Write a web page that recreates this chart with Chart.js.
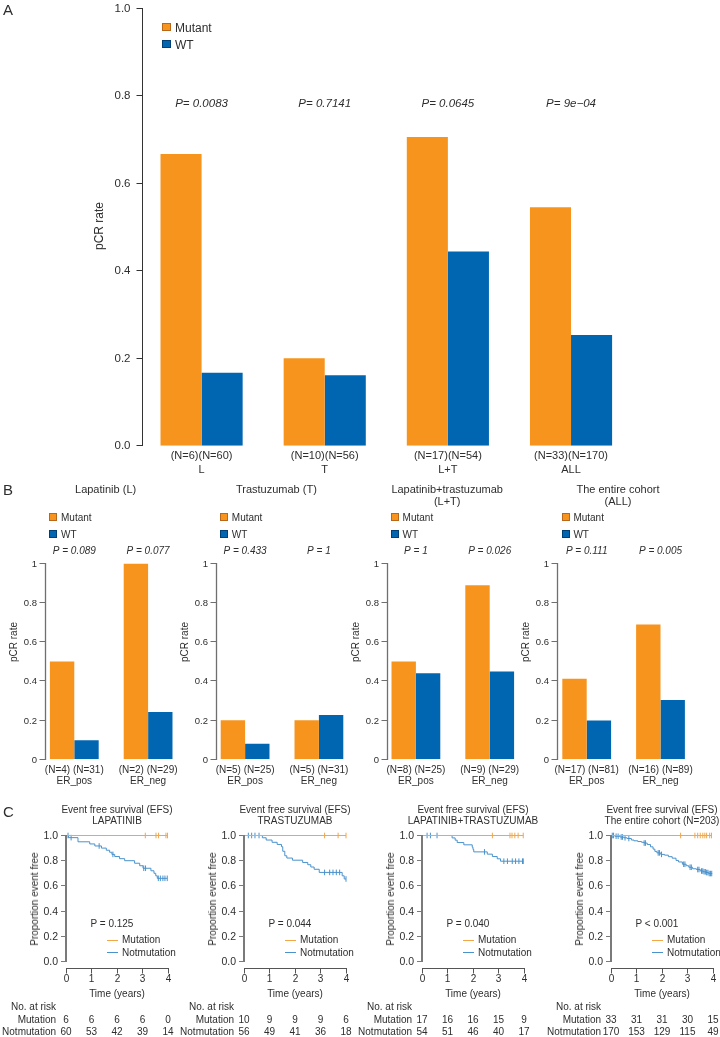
<!DOCTYPE html>
<html><head><meta charset="utf-8">
<script src="https://cdn.jsdelivr.net/npm/chart.js@4.4.1/dist/chart.umd.min.js"></script>
<style>
html,body{margin:0;padding:0;background:#fff;}
#page{position:relative;width:720px;height:1037px;overflow:hidden;font-family:"Liberation Sans",Arial,Helvetica,sans-serif;color:#2e2e2e;background:#fff;}
canvas{position:absolute;}
.t{position:absolute;white-space:nowrap;line-height:1;}
.sq{position:absolute;box-sizing:border-box;}
</style></head><body><div id="page"></div>
<script>
// ---------------- DATA ----------------
// Panel A
const groupsA = ['L', 'T', 'L+T', 'ALL'];
const nLabelsA = ['(N=6)(N=60)', '(N=10)(N=56)', '(N=17)(N=54)', '(N=33)(N=170)'];
const pValuesA = ['P= 0.0083', 'P= 0.7141', 'P= 0.0645', 'P= 9e\u221204'];
const mutantA = [0.667, 0.200, 0.706, 0.545];
const wtA = [0.167, 0.161, 0.444, 0.253];
const yTicksA = [0, 0.2, 0.4, 0.6, 0.8, 1.0];
const yTickLabelsA = ['0.0', '0.2', '0.4', '0.6', '0.8', '1.0'];
const seriesNames = ['Mutant', 'WT'];

// Panel B
const titlesB = [['Lapatinib (L)'], ['Trastuzumab (T)'], ['Lapatinib+trastuzumab', '(L+T)'], ['The entire cohort', '(ALL)']];
const groupsB = ['ER_pos', 'ER_neg'];
const nLabelsB = [['(N=4) (N=31)', '(N=2) (N=29)'], ['(N=5) (N=25)', '(N=5) (N=31)'], ['(N=8) (N=25)', '(N=9) (N=29)'], ['(N=17) (N=81)', '(N=16) (N=89)']];
const pValuesB = [['P = 0.089', 'P = 0.077'], ['P = 0.433', 'P = 1'], ['P = 1', 'P = 0.026'], ['P = 0.111', 'P = 0.005']];
const mutantB = [[0.500, 1.000], [0.200, 0.200], [0.500, 0.889], [0.412, 0.688]];
const wtB = [[0.097, 0.241], [0.080, 0.226], [0.440, 0.448], [0.198, 0.303]];
const yTicksB = [0, 0.2, 0.4, 0.6, 0.8, 1];
const yTickLabelsB = ['0', '0.2', '0.4', '0.6', '0.8', '1'];

// Panel C (Kaplan-Meier)
const titlesC = [['Event free survival (EFS)', 'LAPATINIB'], ['Event free survival (EFS)', 'TRASTUZUMAB'], ['Event free survival (EFS)', 'LAPATINIB+TRASTUZUMAB'], ['Event free survival (EFS)', 'The entire cohort (N=203)']];
const pTextC = ['P = 0.125', 'P = 0.044', 'P = 0.040', 'P < 0.001'];
const kmSeries = ['Mutation', 'Notmutation'];
const xTicksC = [0, 1, 2, 3, 4];
const xTickLabelsC = ['0', '1', '2', '3', '4'];
const yTicksC = [0, 0.2, 0.4, 0.6, 0.8, 1.0];
const yTickLabelsC = ['0.0', '0.2', '0.4', '0.6', '0.8', '1.0'];

const timesNot1 = [0, 0.1, 0.47, 0.93, 1.13, 1.39, 1.58, 1.71, 1.8, 1.91, 2.1, 2.3, 2.69, 2.89, 3.02, 3.33, 3.45, 3.52, 3.58];
const survNot1 = [1, 0.983, 0.95, 0.933, 0.917, 0.9, 0.883, 0.867, 0.85, 0.833, 0.816, 0.8, 0.78, 0.76, 0.74, 0.72, 0.7, 0.68, 0.66];
const censNot1 = [0.08, 0.2, 1.3, 1.84, 3.05, 3.12, 3.62, 3.7, 3.8, 3.88, 3.97];
const censMut1 = [3.11, 3.53, 3.63, 3.92, 3.98];

const timesNot2 = [0, 0.72, 0.87, 1.1, 1.3, 1.47, 1.52, 1.6, 1.68, 1.9, 2.3, 2.5, 2.62, 2.75, 2.95, 3.85, 3.93];
const survNot2 = [1, 0.982, 0.964, 0.946, 0.929, 0.911, 0.875, 0.839, 0.821, 0.804, 0.786, 0.768, 0.75, 0.732, 0.707, 0.68, 0.655];
const censNot2 = [0.17, 0.3, 0.43, 0.59, 3.16, 3.36, 3.49, 3.62, 3.75, 4.0];
const censMut2 = [3.16, 3.69, 4.0];

const timesNot3 = [0, 1.18, 1.3, 1.38, 1.64, 1.97, 2.0, 2.03, 2.56, 2.76, 2.95, 3.08];
const survNot3 = [1, 0.981, 0.963, 0.944, 0.926, 0.907, 0.889, 0.87, 0.852, 0.833, 0.815, 0.796];
const censNot3 = [0.2, 0.33, 0.59, 2.45, 3.21, 3.35, 3.54, 3.67, 3.8, 3.94, 3.97];
const censMut3 = [2.76, 3.45, 3.53, 3.64, 3.77, 3.97];

const timesNot4 = [0, 0.15, 0.35, 0.5, 0.63, 0.8, 0.9, 1.05, 1.2, 1.3, 1.42, 1.55, 1.65, 1.72, 1.8, 1.95, 2.1, 2.25, 2.4, 2.55, 2.65, 2.8, 2.95, 3.05, 3.2, 3.35, 3.5, 3.62, 3.72, 3.83];
const survNot4 = [1, 0.994, 0.988, 0.982, 0.976, 0.964, 0.958, 0.952, 0.946, 0.94, 0.928, 0.91, 0.892, 0.874, 0.862, 0.85, 0.844, 0.832, 0.82, 0.802, 0.79, 0.772, 0.76, 0.748, 0.736, 0.73, 0.718, 0.712, 0.706, 0.698];
const censNot4 = [0.05, 0.1, 0.2, 0.28, 0.4, 0.45, 0.55, 0.7, 1.3, 1.35, 1.85, 1.9, 1.98, 2.85, 2.9, 3.1, 3.15, 3.4, 3.45, 3.55, 3.6, 3.65, 3.7, 3.75, 3.8, 3.85, 3.9, 3.95];
const censMut4 = [2.73, 3.29, 3.4, 3.5, 3.6, 3.68, 3.75, 3.87, 3.94];

const endNot = [3.97, 4.0, 3.97, 3.97];
const endMut = [3.98, 4.0, 3.97, 3.96];

const riskMut = [[6, 6, 6, 6, 0], [10, 9, 9, 9, 6], [17, 16, 16, 15, 9], [33, 31, 31, 30, 15]];
const riskNot = [[60, 53, 42, 39, 14], [56, 49, 41, 36, 18], [54, 51, 46, 40, 17], [170, 153, 129, 115, 49]];

// ---------------- STYLE ----------------
const FONT = '"Liberation Sans", Arial, Helvetica, sans-serif';
const ORANGE = '#F7941D', BLUE = '#0066B2';
const ORANGE_EDGE = '#B8681A', BLUE_EDGE = '#003F73';
const KM_ORANGE = '#F3A646', KM_BLUE = '#4A92CC';
const TXT = '#2e2e2e';

const page = document.getElementById('page');
function makeCanvas(left, top, w, h) {
  const c = document.createElement('canvas');
  c.width = w; c.height = h;
  c.style.left = left + 'px'; c.style.top = top + 'px';
  c.style.width = w + 'px'; c.style.height = h + 'px';
  page.appendChild(c);
  return c;
}
function txt(s, x, y, o = {}) {
  const d = document.createElement('div');
  d.className = 't'; d.textContent = s;
  d.style.left = x + 'px'; d.style.top = y + 'px';
  d.style.fontSize = (o.size || 10) + 'px';
  if (o.italic) d.style.fontStyle = 'italic';
  if (o.color) d.style.color = o.color;
  const ax = o.align === 'left' ? '0' : (o.align === 'right' ? '-100%' : '-50%');
  d.style.transform = 'translate(' + ax + ',-50%)' + (o.rot ? ' rotate(' + o.rot + 'deg)' : '');
  page.appendChild(d);
  return d;
}
function box(x, y, w, h, fill, border) {
  const d = document.createElement('div');
  d.className = 'sq';
  d.style.left = x + 'px'; d.style.top = y + 'px';
  d.style.width = w + 'px'; d.style.height = h + 'px';
  d.style.background = fill;
  if (border) d.style.border = '1px solid ' + border;
  page.appendChild(d);
}
function survAt(times, surv, t) {
  let s = surv[0];
  for (let i = 0; i < times.length; i++) if (times[i] <= t) s = surv[i];
  return s;
}

// R-style axes/labels drawn through the chart's own scales
const rStyle = {
  id: 'rStyle',
  afterDatasetsDraw(chart, args, o) {
    const ctx = chart.ctx, ca = chart.chartArea, xs = chart.scales.x, ys = chart.scales.y;
    const crisp = (v, w) => (Math.round(w) % 2 === 1) ? Math.floor(v) + 0.5 : Math.round(v);
    ctx.save();
    ctx.textBaseline = 'middle';
    if (o.yAxis) {
      const a = o.yAxis;
      const ax = crisp(ca.left + a.offset, a.lineWidth);
      const pts = a.ticks.map(v => crisp(ys.getPixelForValue(v), 1));
      ctx.strokeStyle = a.color; ctx.lineWidth = a.lineWidth;
      ctx.beginPath();
      ctx.moveTo(ax, pts[0] + 0.5); ctx.lineTo(ax, pts[pts.length - 1] - 0.5);
      ctx.stroke();
      ctx.lineWidth = a.tickWidth || 1;
      ctx.beginPath();
      pts.forEach(p => { ctx.moveTo(ax - a.tickLen, p); ctx.lineTo(ax, p); });
      ctx.stroke();
      ctx.fillStyle = a.textColor; ctx.font = a.font; ctx.textAlign = 'right';
      pts.forEach((p, i) => ctx.fillText(a.labels[i], ax - a.tickLen - a.gap, p + 0.5));
    }
    if (o.xAxis) {
      const a = o.xAxis;
      const ay = crisp(ca.bottom + a.offset, a.lineWidth);
      const pts = a.ticks.map(v => crisp(xs.getPixelForValue(v), 1));
      ctx.strokeStyle = a.color; ctx.lineWidth = a.lineWidth;
      ctx.beginPath();
      ctx.moveTo(pts[0] - 0.5, ay); ctx.lineTo(pts[pts.length - 1] + 0.5, ay);
      pts.forEach(p => { ctx.moveTo(p, ay); ctx.lineTo(p, ay + a.tickLen); });
      ctx.stroke();
      ctx.fillStyle = a.textColor; ctx.font = a.font; ctx.textAlign = 'center';
      pts.forEach((p, i) => ctx.fillText(a.labels[i], p, ay + a.labelDy));
    }
    if (o.catLabels) {
      const c = o.catLabels;
      ctx.fillStyle = c.color; ctx.font = c.font; ctx.textAlign = 'center';
      c.lines.forEach((arr, li) => arr.forEach((s, i) => ctx.fillText(s, xs.getPixelForValue(i), ca.bottom + c.dy[li])));
    }
    if (o.topTexts) {
      const c = o.topTexts;
      ctx.fillStyle = c.color; ctx.font = c.font; ctx.textAlign = 'center';
      c.texts.forEach((s, i) => ctx.fillText(s, xs.getPixelForValue(i), ca.top + c.dy));
    }
    if (o.risk) {
      const r = o.risk;
      const x0 = xs.getPixelForValue(r.times[0]);
      ctx.fillStyle = r.color; ctx.font = r.font;
      ctx.textAlign = 'right';
      ctx.fillText(r.header, x0 - r.labelGap, ca.bottom + r.dy[0]);
      r.rows.forEach((row, ri) => {
        const yy = ca.bottom + r.dy[ri + 1];
        ctx.textAlign = 'right';
        ctx.fillText(row.label, x0 - r.labelGap, yy);
        ctx.textAlign = 'center';
        row.values.forEach((v, i) => ctx.fillText(String(v), xs.getPixelForValue(r.times[i]), yy));
      });
    }
    ctx.restore();
  }
};

const baseOpts = (pad) => ({
  responsive: false, animation: false, devicePixelRatio: 1, events: [],
  layout: { padding: pad },
  plugins: { legend: { display: false }, tooltip: { enabled: false } }
});

// ---------------- PANEL A ----------------
(function () {
  const W = 720, H = 490;
  const area = { left: 140, top: 8.3, right: 632.6, bottom: 445.7 };
  const c = makeCanvas(0, 0, W, H);
  const opts = baseOpts({ left: area.left, top: area.top, right: W - area.right, bottom: H - area.bottom });
  opts.scales = { x: { display: false }, y: { display: false, min: 0, max: 1 } };
  opts.plugins.rStyle = {
    yAxis: { ticks: yTicksA, labels: yTickLabelsA, offset: 2.5, tickLen: 6, gap: 6, color: '#333', lineWidth: 1, textColor: TXT, font: '11.5px ' + FONT },
    catLabels: { lines: [nLabelsA, groupsA], dy: [10.5, 24.5], color: TXT, font: '11px ' + FONT },
    topTexts: { texts: pValuesA, dy: 95.7, color: TXT, font: 'italic 11.5px ' + FONT }
  };
  new Chart(c, {
    type: 'bar',
    data: { labels: groupsA, datasets: [
      { label: seriesNames[0], data: mutantA, backgroundColor: ORANGE, borderWidth: 0, categoryPercentage: 0.667, barPercentage: 1 },
      { label: seriesNames[1], data: wtA, backgroundColor: BLUE, borderWidth: 0, categoryPercentage: 0.667, barPercentage: 1 }
    ] },
    options: opts,
    plugins: [rStyle]
  });
  txt('A', 3, 9, { size: 15, align: 'left' });
  txt('pCR rate', 99, 226, { size: 12, rot: -90 });
  box(162, 23, 9, 8, ORANGE, ORANGE_EDGE);
  box(162, 40, 9, 8, BLUE, BLUE_EDGE);
  txt(seriesNames[0], 175, 27.5, { size: 12, align: 'left' });
  txt(seriesNames[1], 175, 44.5, { size: 12, align: 'left' });
})();

// ---------------- PANEL B ----------------
txt('B', 3, 489, { size: 15, align: 'left' });
const BL = [37.4, 208.2, 379, 549.8];
for (let p = 0; p < 4; p++) {
  const L = BL[p], Wd = 147.6;
  const top = 563.5, bottom = 759.3;
  const cl = Math.floor(L - 37.4), ct = 530, W = 200, H = 265;
  const c = makeCanvas(cl, ct, W, H);
  const opts = baseOpts({ left: L - cl, top: top - ct, right: W - (L - cl) - Wd, bottom: ct + H - bottom });
  opts.scales = { x: { display: false }, y: { display: false, min: 0, max: 1 } };
  opts.plugins.rStyle = {
    yAxis: { ticks: yTicksB, labels: yTickLabelsB, offset: 8, tickLen: 6, gap: 2.5, color: '#6f6f6f', lineWidth: 1.3, textColor: TXT, font: '9.5px ' + FONT },
    catLabels: { lines: [nLabelsB[p], groupsB], dy: [10.7, 22.4], color: TXT, font: '10px ' + FONT },
    topTexts: { texts: pValuesB[p], dy: -12.5, color: TXT, font: 'italic 10px ' + FONT }
  };
  new Chart(c, {
    type: 'bar',
    data: { labels: groupsB, datasets: [
      { label: seriesNames[0], data: mutantB[p], backgroundColor: ORANGE, borderWidth: 0, categoryPercentage: 0.661, barPercentage: 1 },
      { label: seriesNames[1], data: wtB[p], backgroundColor: BLUE, borderWidth: 0, categoryPercentage: 0.661, barPercentage: 1 }
    ] },
    options: opts,
    plugins: [rStyle]
  });
  const cx = L + 68.2;
  txt(titlesB[p][0], cx, 489, { size: 11 });
  if (titlesB[p][1]) txt(titlesB[p][1], cx, 501, { size: 11 });
  box(L + 11.7, 513, 8, 8, ORANGE, ORANGE_EDGE);
  box(L + 11.7, 530, 8, 8, BLUE, BLUE_EDGE);
  txt(seriesNames[0], L + 23.6, 517.5, { size: 10, align: 'left' });
  txt(seriesNames[1], L + 23.6, 534.5, { size: 10, align: 'left' });
  txt('pCR rate', L - 23.5, 642, { size: 10, rot: -90 });
}

// ---------------- PANEL C ----------------
txt('C', 3, 811, { size: 15, align: 'left' });
const CX0 = [66, 244, 422, 611];
const kmTimes = [timesNot1, timesNot2, timesNot3, timesNot4];
const kmSurv = [survNot1, survNot2, survNot3, survNot4];
const kmCensNot = [censNot1, censNot2, censNot3, censNot4];
const kmCensMut = [censMut1, censMut2, censMut3, censMut4];
for (let p = 0; p < 4; p++) {
  const x0 = CX0[p], Wd = 102, top = 835.5, bottom = 961.5;
  const cl = x0 - 66, ct = 795, W = 190, H = 242;
  const c = makeCanvas(cl, ct, W, H);
  const opts = baseOpts({ left: x0 - cl, top: top - ct, right: W - (x0 - cl) - Wd, bottom: ct + H - bottom });
  opts.scales = { x: { type: 'linear', display: false, min: 0, max: 4 }, y: { display: false, min: 0, max: 1 } };
  opts.plugins.rStyle = {
    yAxis: { ticks: yTicksC, labels: yTickLabelsC, offset: 0, tickLen: 5, tickWidth: 1, gap: 3, color: '#7a7a7a', lineWidth: 2, textColor: TXT, font: '10.5px ' + FONT },
    xAxis: { ticks: xTicksC, labels: xTickLabelsC, offset: 6.8, tickLen: 5, labelDy: 10.7, color: '#555', lineWidth: 1, textColor: TXT, font: '10px ' + FONT },
    risk: { header: 'No. at risk', times: xTicksC, labelGap: 10, dy: [45.5, 58.5, 71], color: TXT, font: '10px ' + FONT,
      rows: [{ label: kmSeries[0], values: riskMut[p] }, { label: kmSeries[1], values: riskNot[p] }] }
  };
  const t = kmTimes[p], s = kmSurv[p];
  const notLine = t.map((tt, i) => ({ x: tt, y: s[i] }));
  notLine.push({ x: endNot[p], y: s[s.length - 1] });
  const mutLine = [{ x: 0, y: 1 }, { x: endMut[p], y: 1 }];
  const censN = kmCensNot[p].map(tt => ({ x: tt, y: survAt(t, s, tt) }));
  const censM = kmCensMut[p].map(tt => ({ x: tt, y: 1 }));
  const censorStyle = { showLine: false, pointStyle: 'line', pointRotation: 90, pointRadius: 2.8, pointBorderWidth: 1, clip: false };
  new Chart(c, {
    type: 'line',
    data: { datasets: [
      { label: kmSeries[0], data: mutLine, borderColor: KM_ORANGE, borderWidth: 1, pointRadius: 0, fill: false, clip: false },
      Object.assign({ label: kmSeries[0] + ' censored', data: censM, borderColor: KM_ORANGE, pointBorderColor: KM_ORANGE }, censorStyle),
      { label: kmSeries[1], data: notLine, borderColor: KM_BLUE, borderWidth: 1, pointRadius: 0, fill: false, stepped: 'before', clip: false },
      Object.assign({ label: kmSeries[1] + ' censored', data: censN, borderColor: KM_BLUE, pointBorderColor: KM_BLUE }, censorStyle)
    ] },
    options: opts,
    plugins: [rStyle]
  });
  const cx = x0 + 51;
  txt(titlesC[p][0], cx, 810, { size: 10 });
  txt(titlesC[p][1], cx, 821, { size: 10 });
  txt('Proportion event free', x0 - 31, 898.5, { size: 10, rot: -90 });
  txt('Time (years)', cx, 994, { size: 10 });
  txt(pTextC[p], x0 + 24.5, 924.3, { size: 10, align: 'left' });
  box(x0 + 41, 939.5, 11, 1, KM_ORANGE);
  box(x0 + 41, 952.2, 11, 1, KM_BLUE);
  txt(kmSeries[0], x0 + 56, 940, { size: 10, align: 'left' });
  txt(kmSeries[1], x0 + 56, 952.7, { size: 10, align: 'left' });
}
</script></body></html>
